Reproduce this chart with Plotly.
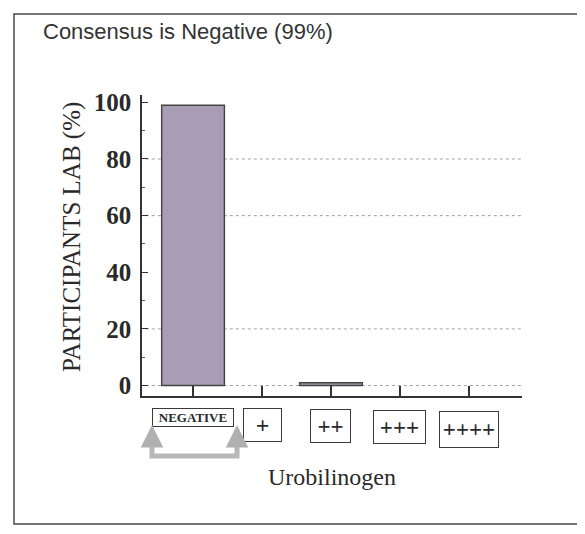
import plotly.graph_objects as go

# ---- data ----
categories = ["NEGATIVE", "+", "++", "+++", "++++"]
percent_labs = [99, 0, 1, 0, 0]
y_ticks = [0, 20, 40, 60, 80, 100]
grid_levels = [0, 20, 60, 80]
title_text = "Consensus is Negative (99%)"
x_title = "Urobilinogen"
y_title = "PARTICIPANTS LAB (%)"

# ---- styling / layout helpers ----
OFF = 8                      # page body margin
W, H = 585 - OFF, 534 - OFF
L, R, T, B = 142 - OFF, 522 - OFF, 95 - OFF, 396 - OFF  # plot area in figure pixels


def px_x(p):
    return (p - OFF - L) / (R - L)


def px_y(p):
    return (B - (p - OFF)) / (B - T)


label_boxes = [  # (width, height, top page pixel, font size)
    (82, 19, 408, 13),
    (39, 34, 408, 24),
    (41, 34, 409, 23),
    (53, 34, 410, 23),
    (60, 37, 411, 23),
]

serif = "Liberation Serif"
dark = "#2a2a2a"

fig = go.Figure()
fig.add_trace(go.Bar(
    x=list(range(len(categories))),
    y=percent_labs,
    width=0.91,
    marker=dict(color="#a89db4",
                line=dict(color="#444444", width=[1.4 if v > 0 else 0 for v in percent_labs])),
    hoverinfo="skip",
))

shapes = []
for g in grid_levels:
    shapes.append(dict(type="line", xref="paper", yref="y", x0=0.01, x1=1.0,
                       y0=g, y1=g, line=dict(color="#a0a0a0", width=1, dash="dot"),
                       layer="below"))
# outer frame
shapes.append(dict(type="rect", xref="paper", yref="paper",
                   x0=px_x(14), x1=px_x(578), y0=px_y(524), y1=px_y(14),
                   line=dict(color="#4a4a4a", width=1.5)))
# bracket arrow (bottom bar)
shapes.append(dict(type="path", xref="paper", yref="paper",
                   path=f"M {px_x(152)},{px_y(438)} L {px_x(152)},{px_y(456)} "
                        f"L {px_x(237)},{px_y(456)} L {px_x(237)},{px_y(438)}",
                   line=dict(color="#b8b8b8", width=5)))

annotations = []
for i, (cat, (bw, bh, top, fs)) in enumerate(zip(categories, label_boxes)):
    annotations.append(dict(
        x=i, xref="x", y=px_y(top), yref="paper", yanchor="top", xanchor="center",
        text=cat, showarrow=False, width=bw - 2, height=bh - 2,
        bordercolor="#3a3a3a", borderwidth=1, borderpad=0, bgcolor="white",
        font=dict(family=serif, size=fs, color=dark, weight="bold"),
        valign="middle", align="center",
    ))
# arrow heads
for xp in (152, 237):
    annotations.append(dict(
        x=px_x(xp), y=px_y(425), xref="paper", yref="paper", ax=0, ay=16,
        text="", showarrow=True, arrowhead=2, arrowsize=0.9, arrowwidth=5,
        arrowcolor="#b0b0b0",
    ))
annotations.append(dict(
    x=px_x(332), y=px_y(477), xref="paper", yref="paper", text=x_title,
    showarrow=False, font=dict(family=serif, size=24, color=dark),
    xanchor="center", yanchor="middle",
))
annotations.append(dict(
    x=px_x(72), y=px_y(237), xref="paper", yref="paper", text=y_title,
    textangle=-90, showarrow=False, font=dict(family=serif, size=25, color=dark),
    xanchor="center", yanchor="middle",
))

fig.update_layout(
    width=W, height=H,
    margin=dict(l=L, r=W - R, t=T, b=H - B, pad=0, autoexpand=False),
    paper_bgcolor="white", plot_bgcolor="white",
    showlegend=False,
    title=dict(text=title_text, x=(43 - OFF) / W, xanchor="left", xref="container",
               y=1 - (31 - OFF) / H, yanchor="middle",
               font=dict(family="Liberation Sans", size=22, color="#333333")),
    shapes=shapes,
    annotations=annotations,
)
fig.update_xaxes(
    range=[-0.74, 4.77], tickvals=list(range(len(categories))), showticklabels=False,
    ticks="inside", ticklen=10, tickwidth=1.5, tickcolor="#333333",
    showline=True, linecolor="#333333", linewidth=1.5, showgrid=False, zeroline=False,
)
fig.update_yaxes(
    range=[-3.7, 102.6], tickvals=y_ticks, ticks="inside", ticklen=6, tickwidth=1.2,
    tickcolor="#333333", showline=True, linecolor="#333333", linewidth=1.5,
    showgrid=False, zeroline=False,
    tickfont=dict(family=serif, size=25, color=dark, weight="bold"), ticklabelstandoff=4,
    minor=dict(dtick=10, ticks="inside", ticklen=3, tickcolor="#555555"),
)

fig.write_html("out.html")
